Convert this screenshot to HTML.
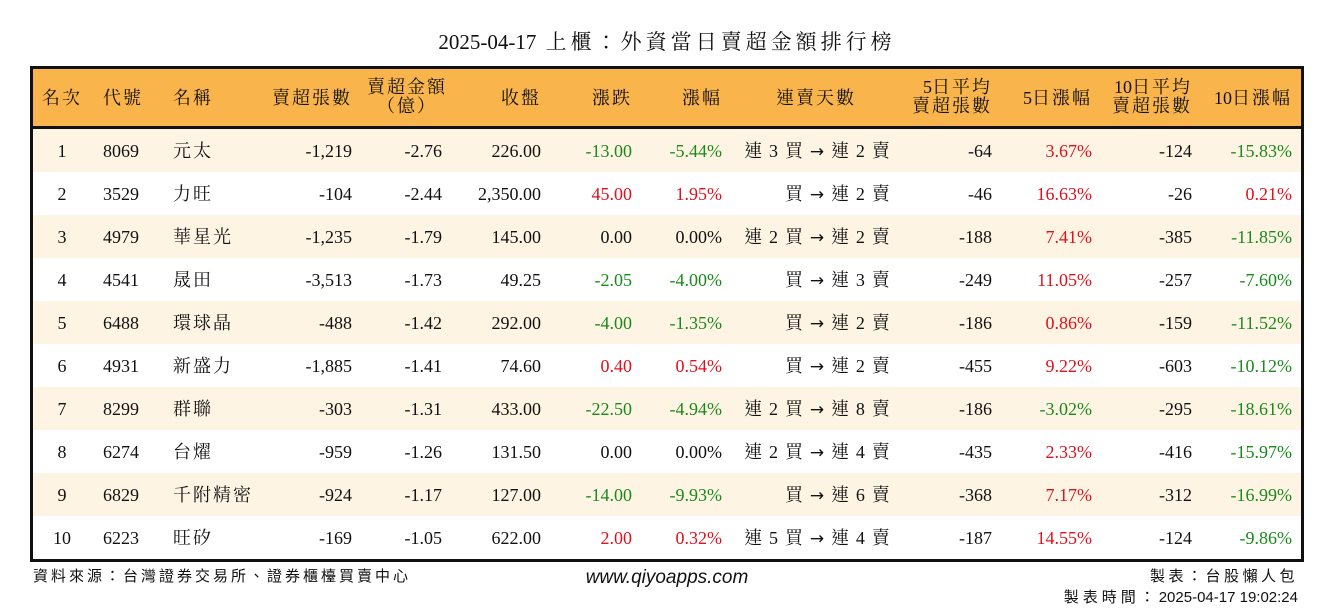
<!DOCTYPE html>
<html><head><meta charset="utf-8">
<style>
body{margin:0;width:1334px;height:612px;background:#fff;position:relative;overflow:hidden;font-family:"Liberation Serif","Noto Serif CJK TC","Noto Serif CJK SC",serif;color:#111}
.t{position:absolute;white-space:nowrap;font-size:18px;line-height:20px}
#box{position:absolute;left:30px;top:66px;width:1268px;height:490px;border:3px solid #111}
#hdr{position:absolute;left:0;top:0;width:1268px;height:57px;background:#f9b44c;border-bottom:3px solid #111}
.row{position:absolute;left:0;width:1268px;height:43px}
.r{text-align:right}.c{text-align:center}
.red{color:#e0101c}.grn{color:#1a8a1a}
.cj{letter-spacing:2px}
.st{letter-spacing:1.2px}
.n{letter-spacing:0}
.ar{font-family:"DejaVu Sans",sans-serif;font-size:17px}
</style></head><body>
<div class="t c" style="left:0;width:1334px;top:30px;font-size:21px;line-height:24px;letter-spacing:4px"><span class="n">2025-04-17</span> 上櫃：外資當日賣超金額排行榜</div>
<div id="box"><div id="hdr"></div></div>
<div class="t" style="left:33px;top:567px;font-size:15px;letter-spacing:3px;font-family:'Liberation Sans','Noto Sans CJK TC',sans-serif">資料來源：台灣證券交易所、證券櫃檯買賣中心</div>
<div class="t c" style="left:567px;width:200px;top:568px;font-size:19px;font-style:italic;font-family:'Liberation Sans',sans-serif">www.qiyoapps.com</div>
<div class="t r" style="right:36px;top:567px;font-size:15px;letter-spacing:3.5px;font-family:'Liberation Sans','Noto Sans CJK TC',sans-serif">製表：台股懶人包</div>
<div class="t r" style="right:36px;top:588px;font-size:15px;letter-spacing:4px;font-family:'Liberation Sans','Noto Sans CJK TC',sans-serif">製表時間：<span class="n">2025-04-17 19:02:24</span></div>
<script>
const ranks=[1,2,3,4,5,6,7,8,9,10];
const codes=["8069","3529","4979","4541","6488","4931","8299","6274","6829","6223"];
const names=["元太","力旺","華星光","晟田","環球晶","新盛力","群聯","台燿","千附精密","旺矽"];
const sellVol=["-1,219","-104","-1,235","-3,513","-488","-1,885","-303","-959","-924","-169"];
const sellAmt=["-2.76","-2.44","-1.79","-1.73","-1.42","-1.41","-1.31","-1.26","-1.17","-1.05"];
const closes=["226.00","2,350.00","145.00","49.25","292.00","74.60","433.00","131.50","127.00","622.00"];
const changes=["-13.00","45.00","0.00","-2.05","-4.00","0.40","-22.50","0.00","-14.00","2.00"];
const pcts=["-5.44%","1.95%","0.00%","-4.00%","-1.35%","0.54%","-4.94%","0.00%","-9.93%","0.32%"];
const streaks=["連 3 買 → 連 2 賣","買 → 連 2 賣","連 2 買 → 連 2 賣","買 → 連 3 賣","買 → 連 2 賣","買 → 連 2 賣","連 2 買 → 連 8 賣","連 2 買 → 連 4 賣","買 → 連 6 賣","連 5 買 → 連 4 賣"];
const avg5=["-64","-46","-188","-249","-186","-455","-186","-435","-368","-187"];
const pct5=["3.67%","16.63%","7.41%","11.05%","0.86%","9.22%","-3.02%","2.33%","7.17%","14.55%"];
const avg10=["-124","-26","-385","-257","-159","-603","-295","-416","-312","-124"];
const pct10=["-15.83%","0.21%","-11.85%","-7.60%","-11.52%","-10.12%","-18.61%","-15.97%","-16.99%","-9.86%"];
const headers=["名次","代號","名稱","賣超張數","賣超金額<br>（億）","收盤","漲跌","漲幅","連賣天數","5日平均<br>賣超張數","5日漲幅","10日平均<br>賣超張數","10日漲幅"];
const cols=[[37,'c',50],[103,'l',60],[173,'l',120],[252,'r',100],[342,'r',100],[441,'r',100],[532,'r',100],[622,'r',100],[711,'r',180],[892,'r',100],[992,'r',100],[1092,'r',100],[1192,'r',100]];
const hdrCols=[[37,'c',50],[103,'l',60],[173,'l',120],[252,'r',100],[352,'c',110],[441,'r',100],[532,'r',100],[622,'r',100],[741,'c',150],[892,'r',100],[992,'r',100],[1092,'r',100],[1192,'r',100]];
function color(v){return v.startsWith('-')?'grn':(parseFloat(v.replace(/,/g,''))>0?'red':'');}
const box=document.getElementById('box');
headers.forEach((h,i)=>{
  const d=document.createElement('div');
  
  
  const [x,a,w]=hdrCols[i];
  d.className='t cj '+(a==='r'?'r':a==='c'?'c':'');
  const two=h.includes('<br>');
  d.style.cssText=`left:${x-33}px;width:${w}px;top:${two?9:19}px;line-height:${two?19:20}px;font-size:18px`;
  d.innerHTML=h.replace(/(\d+)/g,'<span class="n">$1</span>');box.appendChild(d);
});
ranks.forEach((rk,r)=>{
  const row=document.createElement('div');
  
  
  row.className='row';
  row.style.top=(60+r*43)+'px';
  row.style.background=r%2===0?'#fef4e3':'#fff';
  box.appendChild(row);
  const vals=[String(rk),codes[r],names[r],sellVol[r],sellAmt[r],closes[r],changes[r],pcts[r],streaks[r],avg5[r],pct5[r],avg10[r],pct10[r]];
  vals.forEach((v,i)=>{
    const d=document.createElement('div');
    
    
    const [x,a,w]=cols[i];
    let cl=(a==='r'?'r':a==='c'?'c':'');
    if(i===6||i===7||i===10||i===12) cl+=' '+color(v);
    if(i===2) cl+=' cj';
    if(i===8) cl+=' st';
    d.className='t '+cl;
    d.style.cssText=`left:${x-33}px;width:${w}px;top:12px`;
    if(i===8){d.innerHTML=v.replace('→','<span class="ar">→</span>');}
    else d.textContent=v;
    row.appendChild(d);
  });
});
</script>
</body></html>
